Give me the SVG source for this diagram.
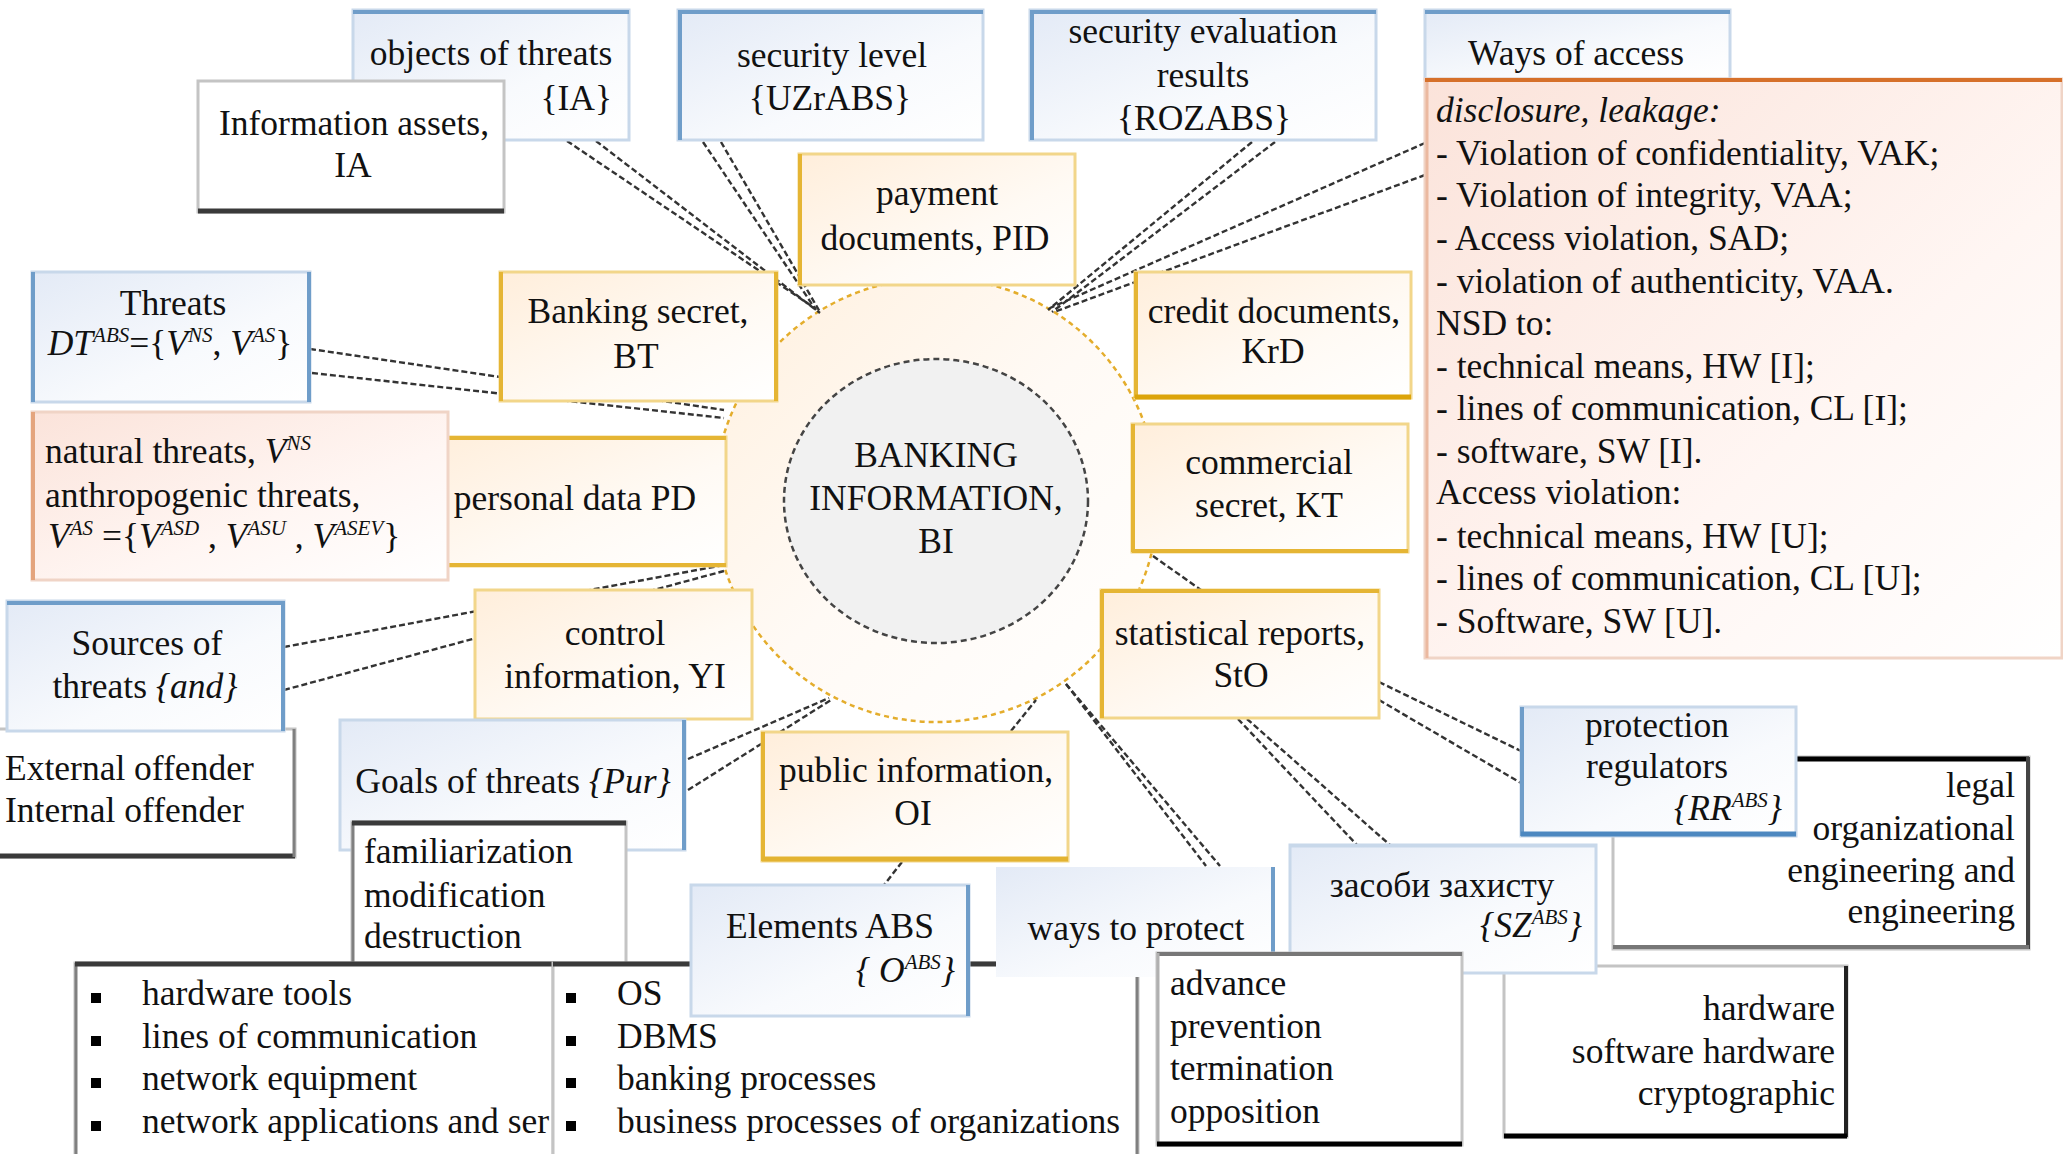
<svg xmlns="http://www.w3.org/2000/svg" width="2063" height="1154" viewBox="0 0 2063 1154" font-family="'Liberation Serif', 'DejaVu Serif', serif">
<defs>
<linearGradient id="gBlue" x1="0" y1="0" x2="1" y2="1"><stop offset="0" stop-color="#e3eaf6"/><stop offset="0.6" stop-color="#f8fafd"/><stop offset="1" stop-color="#ffffff"/></linearGradient>
<linearGradient id="gGold" x1="0" y1="0" x2="1" y2="1"><stop offset="0" stop-color="#ffeedb"/><stop offset="0.6" stop-color="#fffaf4"/><stop offset="1" stop-color="#ffffff"/></linearGradient>
<linearGradient id="gPink" x1="0" y1="0" x2="1" y2="1"><stop offset="0" stop-color="#fbe3da"/><stop offset="0.6" stop-color="#fff6f3"/><stop offset="1" stop-color="#ffffff"/></linearGradient>
<linearGradient id="gRing" x1="0" y1="0" x2="1" y2="1"><stop offset="0" stop-color="#fff0de"/><stop offset="0.5" stop-color="#fffaf5"/><stop offset="1" stop-color="#ffffff"/></linearGradient>
<style>
text { font-family: "Liberation Serif", "DejaVu Serif", serif; font-size: 35.5px; fill: #111; }
.c { text-anchor: middle; }
.e { text-anchor: end; }
.it { font-style: italic; }
.sup { font-size: 21px; }
.conn { stroke: #333333; stroke-width: 2.4; stroke-dasharray: 6 3; fill: none; }
.bb { fill: url(#gBlue); stroke: #c8d8ea; stroke-width: 3; }
.be { stroke: #6f9dc9; stroke-width: 4; fill: none; }
.gb { fill: url(#gGold); stroke: #f2d68a; stroke-width: 3; }
.ge { stroke: #e5b534; stroke-width: 4; fill: none; }
.pb { fill: url(#gPink); stroke: #f0d4c6; stroke-width: 3; }
.wb { fill: #ffffff; stroke: #c4c4c4; stroke-width: 3; }
.dk { stroke: #3a3a3a; stroke-width: 5; fill: none; }
.gr { stroke: #808080; stroke-width: 3; fill: none; }
.bul { fill: #000; }
</style>
</defs>
<rect width="2063" height="1154" fill="#ffffff"/>

<g id="ring">
<circle cx="936" cy="500" r="222" fill="url(#gRing)" stroke="#e4ad2c" stroke-width="2.5" stroke-dasharray="5 4"/>
</g>

<g id="connectors">
<line class="conn" x1="567" y1="141" x2="816" y2="309"/>
<line class="conn" x1="596" y1="141" x2="820" y2="313"/>
<line class="conn" x1="703" y1="142" x2="816" y2="310"/>
<line class="conn" x1="721" y1="142" x2="820" y2="312"/>
<line class="conn" x1="1252" y1="142" x2="1048" y2="310"/>
<line class="conn" x1="1275" y1="142" x2="1052" y2="312"/>
<line class="conn" x1="1425" y1="143" x2="1050" y2="308"/>
<line class="conn" x1="1425" y1="175" x2="1054" y2="312"/>
<line class="conn" x1="310" y1="349" x2="724" y2="410"/>
<line class="conn" x1="312" y1="373" x2="724" y2="418"/>
<line class="conn" x1="284" y1="647" x2="724" y2="565"/>
<line class="conn" x1="284" y1="690" x2="724" y2="571"/>
<line class="conn" x1="688" y1="759" x2="829" y2="698"/>
<line class="conn" x1="688" y1="790" x2="831" y2="700"/>
<line class="conn" x1="1011" y1="731" x2="1036" y2="700"/>
<line class="conn" x1="902" y1="862" x2="884" y2="885"/>
<line class="conn" x1="1066" y1="684" x2="1206" y2="866"/>
<line class="conn" x1="1066" y1="684" x2="1220" y2="866"/>
<line class="conn" x1="1238" y1="719" x2="1357" y2="845"/>
<line class="conn" x1="1247" y1="719" x2="1390" y2="845"/>
<line class="conn" x1="1379" y1="682" x2="1521" y2="751"/>
<line class="conn" x1="1379" y1="700" x2="1521" y2="783"/>
<line class="conn" x1="1153" y1="556" x2="1201" y2="590" stroke-width="3"/>
</g>

<g id="banking-information">
<ellipse cx="936" cy="501" rx="152" ry="142" fill="#f1f1f1" stroke="#444" stroke-width="2.5" stroke-dasharray="6 4"/>
<text class="c" x="936" y="467" fill="#222">BANKING</text>
<text class="c" x="936" y="510" fill="#222">INFORMATION,</text>
<text class="c" x="936" y="553" fill="#222">BI</text>
</g>

<g id="objects-of-threats">
<rect class="bb" x="353" y="10" width="276" height="130"/>
<path class="be" d="M353 12 H629" stroke="#7ba5cd"/>
<text class="c" x="491" y="65">objects of threats</text>
<text class="e" x="612" y="110">{IA}</text>
</g>

<g id="information-assets">
<rect class="wb" x="198" y="81" width="306" height="131" stroke="#9a9a9a"/>
<path class="dk" d="M198 211 H504" stroke="#6b737c"/>
<text class="c" x="354" y="135">Information assets,</text>
<text class="c" x="353" y="177">IA</text>
</g>

<g id="security-level">
<rect class="bb" x="678" y="10" width="305" height="130"/>
<path class="be" d="M678 12 H983 M680 10 V140" stroke="#7ba5cd"/>
<text class="c" x="832" y="67">security level</text>
<text class="c" x="830" y="110">{UZrABS}</text>
</g>

<g id="security-evaluation">
<rect class="bb" x="1030" y="10" width="346" height="130"/>
<path class="be" d="M1030 12 H1376 M1032 10 V140" stroke="#7ba5cd"/>
<text class="c" x="1203" y="43">security evaluation</text>
<text class="c" x="1203" y="87">results</text>
<text class="c" x="1204" y="130">{ROZABS}</text>
</g>

<g id="ways-of-access">
<rect class="bb" x="1425" y="10" width="305" height="69"/>
<path class="be" d="M1425 12 H1730" stroke="#7ba5cd"/>
<text class="c" x="1576" y="65">Ways of access</text>
</g>

<g id="access-list">
<rect class="pb" x="1425" y="79" width="637" height="579"/>
<path d="M1427 79 V658" stroke="#ebb9a0" stroke-width="3" fill="none"/>
<path d="M1425 80 H2062" stroke="#d6702a" stroke-width="4" fill="none"/>
<text class="it" x="1436" y="122">disclosure, leakage:</text>
<text x="1436" y="165">- Violation of confidentiality, VAK;</text>
<text x="1436" y="207">- Violation of integrity, VAA;</text>
<text x="1436" y="250">- Access violation, SAD;</text>
<text x="1436" y="293">- violation of authenticity, VAA.</text>
<text x="1436" y="335">NSD to:</text>
<text x="1436" y="378">- technical means, HW [I];</text>
<text x="1436" y="420">- lines of communication, CL [I];</text>
<text x="1436" y="463">- software, SW [I].</text>
<text x="1436" y="504">Access violation:</text>
<text x="1436" y="548">- technical means, HW [U];</text>
<text x="1436" y="590">- lines of communication, CL [U];</text>
<text x="1436" y="633">- Software, SW [U].</text>
</g>

<g id="payment-documents">
<rect class="gb" x="799" y="154" width="276" height="131"/>
<path class="ge" d="M800 154 V285"/>
<text class="c" x="937" y="205">payment</text>
<text class="c" x="935" y="250">documents, PID</text>
</g>

<g id="banking-secret">
<rect class="gb" x="500" y="272" width="277" height="129"/>
<path class="ge" d="M501 272 V401 M776 272 V401"/>
<text class="c" x="638" y="323">Banking secret,</text>
<text class="c" x="636" y="368">BT</text>
</g>

<g id="credit-documents">
<rect class="gb" x="1135" y="272" width="276" height="126"/>
<path class="ge" d="M1136 272 V398"/>
<path d="M1135 397 H1411" stroke="#dca40a" stroke-width="5" fill="none"/>
<text class="c" x="1274" y="323">credit documents,</text>
<text class="c" x="1273" y="363">KrD</text>
</g>

<g id="commercial-secret">
<rect class="gb" x="1132" y="424" width="276" height="128"/>
<path class="ge" d="M1133 424 V552 M1132 551 H1408"/>
<text class="c" x="1269" y="474">commercial</text>
<text class="c" x="1269" y="517">secret, KT</text>
</g>

<g id="personal-data">
<rect class="gb" x="422" y="437" width="304" height="129"/>
<path class="ge" d="M422 438 H726 M422 565 H726"/>
<text class="c" x="575" y="510">personal data PD</text>
</g>

<g id="threats">
<rect class="bb" x="32" y="272" width="278" height="130"/>
<path class="be" d="M309 272 V402 M33 272 V402" stroke="#6b9bc8"/>
<text class="c" x="173" y="315">Threats</text>
<text class="c" x="170" y="355"><tspan class="it">DT</tspan><tspan class="sup it" dy="-13">ABS</tspan><tspan dy="13">={</tspan><tspan class="it">V</tspan><tspan class="sup it" dy="-13">NS</tspan><tspan dy="13">, </tspan><tspan class="it">V</tspan><tspan class="sup it" dy="-13">AS</tspan><tspan dy="13">}</tspan></text>
</g>

<g id="natural-threats">
<rect class="pb" x="32" y="412" width="416" height="168"/>
<path d="M33 412 V580" stroke="#e4a47d" stroke-width="4" fill="none"/>
<text x="45" y="463">natural threats, <tspan class="it">V</tspan><tspan class="sup it" dy="-13">NS</tspan></text>
<text x="45" y="507">anthropogenic threats,</text>
<text x="48" y="548"><tspan class="it">V</tspan><tspan class="sup it" dy="-13">AS</tspan><tspan dy="13"> ={</tspan><tspan class="it">V</tspan><tspan class="sup it" dy="-13">ASD</tspan><tspan dy="13"> , </tspan><tspan class="it">V</tspan><tspan class="sup it" dy="-13">ASU</tspan><tspan dy="13"> , </tspan><tspan class="it">V</tspan><tspan class="sup it" dy="-13">ASEV</tspan><tspan dy="13">}</tspan></text>
</g>

<g id="offenders">
<rect class="wb" x="-3" y="729" width="298" height="128"/>
<path class="dk" d="M-3 856 H295"/>
<path class="gr" d="M294 729 V857" stroke="#b5b5b5"/>
<text x="5" y="780">External offender</text>
<text x="5" y="822">Internal offender</text>
</g>

<g id="sources-of-threats">
<rect class="bb" x="7" y="601" width="277" height="130"/>
<path class="be" d="M283 601 V731 M7 603 H284"/>
<text class="c" x="147" y="655">Sources of</text>
<text class="c" x="145" y="698">threats <tspan class="it">{and}</tspan></text>
</g>

<g id="control-information">
<rect class="gb" x="475" y="590" width="277" height="129" stroke="#e8bb42" stroke-width="4"/>
<text class="c" x="615" y="645">control</text>
<text class="c" x="615" y="688">information, YI</text>
</g>

<g id="statistical-reports">
<rect class="gb" x="1101" y="590" width="278" height="128"/>
<path class="ge" d="M1101 591 H1379 M1102 590 V718"/>
<text class="c" x="1240" y="645">statistical reports,</text>
<text class="c" x="1241" y="687">StO</text>
</g>

<g id="goals-of-threats">
<rect class="bb" x="340" y="720" width="345" height="130"/>
<path class="be" d="M684 720 V850"/>
<text class="c" x="513" y="793">Goals of threats <tspan class="it">{Pur}</tspan></text>
</g>

<g id="threat-actions">
<rect class="wb" x="352" y="822" width="274" height="150" stroke="#dfe7f0"/>
<path class="gr" d="M353 822 V972" stroke="#777"/>
<path class="dk" d="M352 823 H626"/>
<text x="364" y="863">familiarization</text>
<text x="364" y="907">modification</text>
<text x="364" y="948">destruction</text>
</g>

<g id="public-information">
<rect class="gb" x="762" y="732" width="306" height="129"/>
<path class="ge" d="M763 732 V861"/>
<path d="M762 859 H1068" stroke="#e3b331" stroke-width="5" fill="none"/>
<text class="c" x="916" y="782">public information,</text>
<text class="c" x="913" y="825">OI</text>
</g>

<g id="elements-hardware">
<rect class="wb" x="75" y="963" width="478" height="200"/>
<path class="gr" d="M76 963 V1163"/>
<path class="dk" d="M75 964 H553"/>
<rect class="bul" x="91" y="993" width="10" height="10"/>
<rect class="bul" x="91" y="1036" width="10" height="10"/>
<rect class="bul" x="91" y="1078" width="10" height="10"/>
<rect class="bul" x="91" y="1121" width="10" height="10"/>
<text x="142" y="1005">hardware tools</text>
<text x="142" y="1048">lines of communication</text>
<text x="142" y="1090">network equipment</text>
<text x="142" y="1133">network applications and ser</text>
</g>

<g id="elements-software">
<rect class="wb" x="553" y="963" width="585" height="200" stroke="#d8d8d8"/>
<path class="gr" d="M1137 963 V1163" stroke="#777"/>
<path class="dk" d="M553 964 H1138"/>
<rect class="bul" x="566" y="993" width="10" height="10"/>
<rect class="bul" x="566" y="1036" width="10" height="10"/>
<rect class="bul" x="566" y="1078" width="10" height="10"/>
<rect class="bul" x="566" y="1121" width="10" height="10"/>
<text x="617" y="1005">OS</text>
<text x="617" y="1048">DBMS</text>
<text x="617" y="1090">banking processes</text>
<text x="617" y="1133">business processes of organizations</text>
</g>

<g id="elements-abs">
<rect class="bb" x="691" y="885" width="278" height="131"/>
<path class="be" d="M968 885 V1016" stroke="#93b4d6" stroke-width="3"/>
<text class="c" x="830" y="938">Elements ABS</text>
<text class="e it" x="955" y="982">{ O<tspan class="sup" dy="-13">ABS</tspan><tspan dy="13">}</tspan></text>
</g>

<g id="ways-to-protect">
<rect x="996" y="867" width="278" height="110" fill="url(#gBlue)" stroke="none"/>
<path class="be" d="M1273 867 V977" stroke="#93b4d6" stroke-width="3"/>
<text class="c" x="1136" y="940">ways to protect</text>
</g>

<g id="protection-measures">
<rect class="wb" x="1613" y="757" width="416" height="192" stroke="#cfcfcf"/>
<path d="M1613 759 H2029" stroke="#000" stroke-width="5" fill="none"/>
<path d="M2028 757 V949" stroke="#444" stroke-width="4" fill="none"/>
<path d="M1613 947 H2029" stroke="#777" stroke-width="4" fill="none"/>
<text class="e" x="2015" y="797">legal</text>
<text class="e" x="2015" y="840">organizational</text>
<text class="e" x="2015" y="882">engineering and</text>
<text class="e" x="2015" y="923">engineering</text>
</g>

<g id="protection-regulators">
<rect class="bb" x="1521" y="707" width="275" height="129"/>
<path class="be" d="M1522 707 V836"/>
<path d="M1521 834 H1796" stroke="#4d88c0" stroke-width="5" fill="none"/>
<text class="c" x="1657" y="737">protection</text>
<text class="c" x="1657" y="778">regulators</text>
<text class="e it" x="1782" y="820">{RR<tspan class="sup" dy="-13">ABS</tspan><tspan dy="13">}</tspan></text>
</g>

<g id="protection-tools">
<rect class="wb" x="1504" y="966" width="343" height="171" stroke="#888"/>
<path d="M1846 966 V1137" stroke="#222" stroke-width="4" fill="none"/>
<path d="M1504 1136 H1847" stroke="#000" stroke-width="5" fill="none"/>
<text class="e" x="1835" y="1020">hardware</text>
<text class="e" x="1835" y="1063">software hardware</text>
<text class="e" x="1835" y="1105">cryptographic</text>
</g>

<g id="protection-means">
<rect class="bb" x="1290" y="845" width="306" height="128" stroke="#7ea8d0"/>
<path d="M1290 846 H1596" stroke="#c8d8ea" stroke-width="3" fill="none"/>
<text class="c" x="1442" y="897">засоби захисту</text>
<text class="e it" x="1582" y="937">{SZ<tspan class="sup" dy="-13">ABS</tspan><tspan dy="13">}</tspan></text>
</g>

<g id="protection-stages">
<rect class="wb" x="1157" y="953" width="305" height="192" stroke="#e0e0e0"/>
<path d="M1157 954 H1462" stroke="#777" stroke-width="4" fill="none"/>
<path d="M1158 953 V1145" stroke="#b0b0b0" stroke-width="3" fill="none"/>
<path d="M1157 1144 H1462" stroke="#000" stroke-width="5" fill="none"/>
<text x="1170" y="995">advance</text>
<text x="1170" y="1038">prevention</text>
<text x="1170" y="1080">termination</text>
<text x="1170" y="1123">opposition</text>
</g>
</svg>
